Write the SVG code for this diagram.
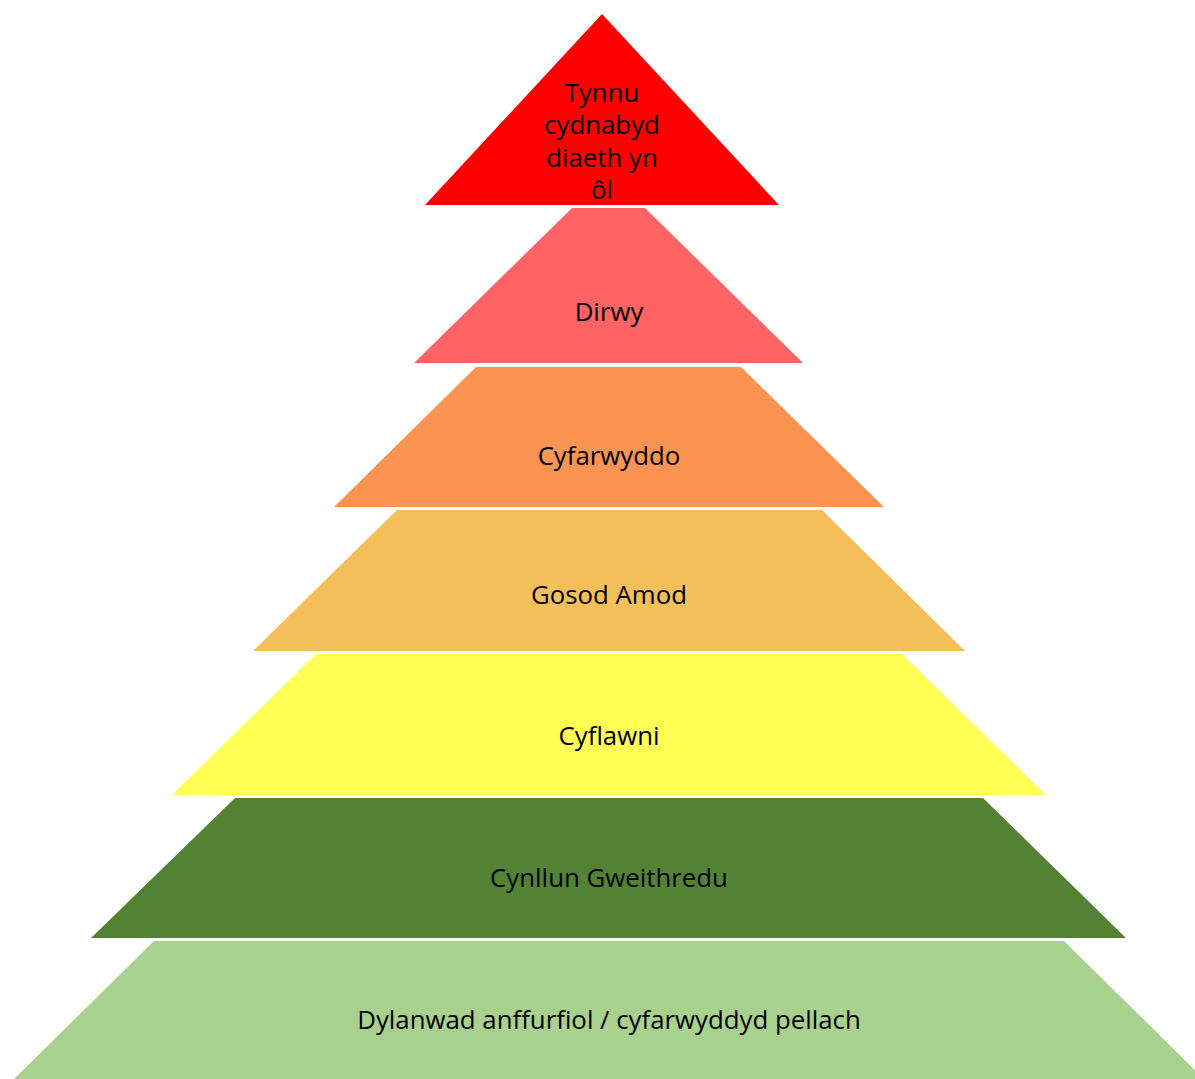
<svg xmlns="http://www.w3.org/2000/svg" width="1195" height="1079" viewBox="0 0 1195 1079">
<style>
text{font-family:"Open Sans","Noto Sans","Liberation Sans",sans-serif;font-size:25.8px;fill:#000;text-anchor:middle}
</style>
<rect width="1195" height="1079" fill="#fff"/>
<g id="layer1">
<polygon points="602,14 779,205 425,205" fill="#FF0000"/>
<text x="602" y="101.5">Tynnu</text>
<text x="602" y="134">cydnabyd</text>
<text x="602" y="166.5">diaeth yn</text>
<text x="602" y="198.5">ôl</text>
</g>
<g id="layer2">
<polygon points="572,208 645,208 803,363 414,363" fill="#FF6363"/>
<text x="609" y="320.5">Dirwy</text>
</g>
<g id="layer3">
<polygon points="476,367 741,367 884,507 334,507" fill="#FB9452"/>
<text x="609" y="464.5">Cyfarwyddo</text>
</g>
<g id="layer4">
<polygon points="397,510 822,510 965,651 253,651" fill="#F4BF58"/>
<text x="609" y="603.5">Gosod Amod</text>
</g>
<g id="layer5">
<polygon points="316,654 902,654 1046,795 172,795" fill="#FFFF55"/>
<text x="609" y="744.5">Cyflawni</text>
</g>
<g id="layer6">
<polygon points="235,798 983,798 1126,938 91,938" fill="#548235"/>
<text x="609" y="886.5">Cynllun Gweithredu</text>
</g>
<g id="layer7">
<polygon points="154,941 1064,941 1204,1079 14,1079" fill="#A9D18E"/>
<text x="609" y="1028.5">Dylanwad anffurfiol / cyfarwyddyd pellach</text>
</g>
<g id="connectors"/>
</svg>
